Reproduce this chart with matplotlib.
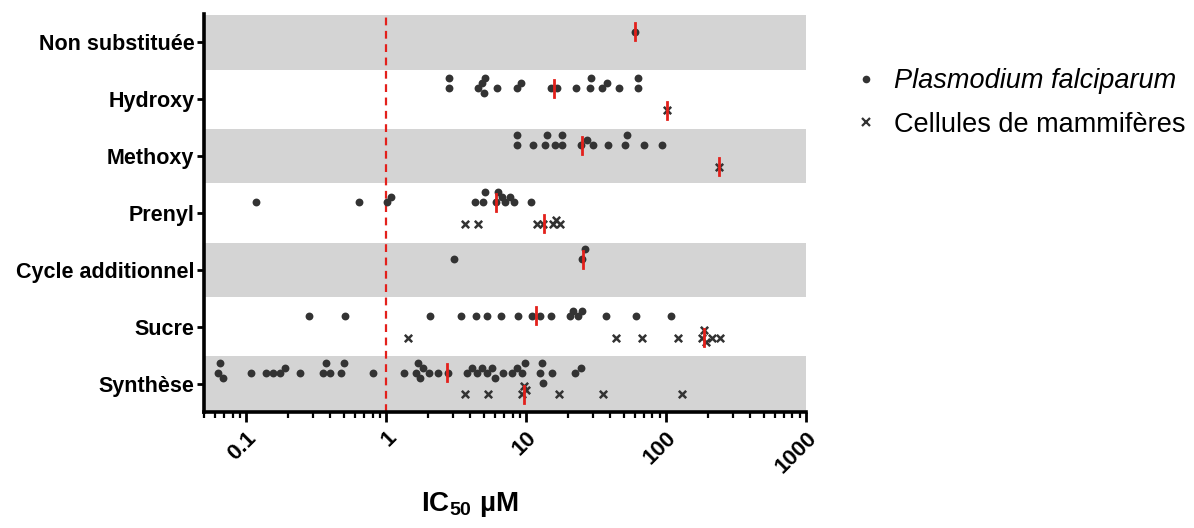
import matplotlib.pyplot as plt
import numpy as np
from matplotlib.lines import Line2D
from matplotlib.ticker import LogLocator, NullFormatter

plt.rcParams['font.family'] = ['Liberation Sans', 'DejaVu Sans']
plt.rcParams['mathtext.fontset'] = 'custom'
plt.rcParams['mathtext.rm'] = 'Liberation Sans'
plt.rcParams['mathtext.bf'] = 'Liberation Sans:bold'

categories = ["Non substituée", "Hydroxy", "Methoxy", "Prenyl",
              "Cycle additionnel", "Sucre", "Synthèse"]
xticks = [0.1, 1, 10, 100, 1000]
xtick_labels = ["0.1", "1", "10", "100", "1000"]

# IC50 (µM) on Plasmodium falciparum
pf_non = [60]
pf_hydroxy = [2.83, 2.83, 4.56, 4.82, 5.0, 5.1, 6.23, 8.6, 9.2, 15.1, 16.7,
              22.7, 28.6, 28.9, 34.7, 37.7, 46.4, 62.6, 63.0]
pf_methoxy = [8.66, 8.66, 11.3, 13.6, 14.1, 16.2, 18.2, 18.2, 24.6, 27.1,
              30.3, 38.7, 51.2, 52.9, 69.4, 94.0]
pf_prenyl = [0.118, 0.645, 1.01, 1.09, 4.32, 4.96, 5.1, 6.1, 6.33, 6.7,
             7.08, 7.68, 8.2, 10.8]
pf_cycle = [3.08, 25.3, 26.5]
pf_sucre = [0.283, 0.512, 2.06, 3.42, 4.39, 5.3, 6.6, 8.8, 11.1, 12.6, 15.1,
            20.6, 21.8, 23.6, 25.0, 37.2, 61.1, 109]
pf_synthese = [0.063, 0.065, 0.068, 0.109, 0.138, 0.155, 0.175, 0.188,
               0.244, 0.356, 0.373, 0.398, 0.48, 0.50, 0.80, 1.35, 1.64,
               1.69, 1.75, 1.83, 2.04, 2.33, 2.78, 3.77, 4.09, 4.44, 4.83,
               5.24, 5.69, 6.0, 6.82, 7.9, 8.6, 9.3, 9.8, 12.6, 12.9, 13.3,
               15.3, 22.3, 24.6]

# IC50 (µM) on mammalian cells
mam_non = []
mam_hydroxy = [102]
mam_methoxy = [240]
mam_prenyl = [3.66, 4.5, 12.0, 13.2, 15.5, 16.4, 17.5]
mam_cycle = []
mam_sucre = [1.44, 44.0, 67.8, 121, 180, 186, 192, 214, 243]
mam_synthese = [3.66, 5.37, 9.3, 9.6, 10.0, 17.2, 35.5, 131]

pf_median = [60, 15.9, 25.0, 6.1, 25.4, 11.8, 2.71]
mam_median = [None, 102, 240, 13.5, None, 186, 9.6]

pf_values = [pf_non, pf_hydroxy, pf_methoxy, pf_prenyl, pf_cycle,
             pf_sucre, pf_synthese]
mam_values = [mam_non, mam_hydroxy, mam_methoxy, mam_prenyl, mam_cycle,
              mam_sucre, mam_synthese]

dark = '#333333'
red = '#e3201b'
W, H = 1194, 528


def swarm_y(ax, xs, y0, step=5.0, diam=6.0):
    # simple beeswarm in pixel space, returns y in data units
    xs = np.asarray(xs, float)
    pts = ax.transData.transform(np.column_stack([xs, np.full(len(xs), y0)]))
    ys = pts[:, 1].copy()
    placed = []
    for i in np.argsort(xs):
        px = pts[i, 0]
        for k in [0, 1, -1, 2, -2, 3, -3]:
            py = pts[i, 1] + k * step
            if all((px - qx) ** 2 + (py - qy) ** 2 >= diam ** 2 for qx, qy in placed):
                break
        placed.append((px, py))
        ys[i] = py
    back = ax.transData.inverted().transform(np.column_stack([pts[:, 0], ys]))
    return back[:, 1]


fig = plt.figure(figsize=(W / 100, H / 100), dpi=100)
ax = fig.add_axes([204 / W, 1 - 412 / H, (806 - 204) / W, (412 - 14) / H])
ax.set_xscale('log')
ax.set_xlim(0.05, 1000)
ax.set_ylim(6.5, -0.5)

for i in range(0, len(categories), 2):
    ax.axhspan(i - 0.48, i + 0.48, color='#d4d4d4', lw=0, zorder=0)

ax.axvline(1, color=red, lw=1.6, ls=(0, (3.5, 2.5)), zorder=1)

off = 0.19
for i in range(len(categories)):
    if pf_values[i]:
        yy = swarm_y(ax, pf_values[i], i - off)
        ax.scatter(pf_values[i], yy, s=32, color=dark, lw=0, zorder=3)
    if mam_values[i]:
        yy = swarm_y(ax, mam_values[i], i + off, step=4.0, diam=4.5)
        ax.scatter(mam_values[i], yy, s=28, marker='x', color=dark,
                   linewidths=1.8, zorder=3)
    if pf_median[i] is not None:
        ax.plot([pf_median[i]] * 2, [i - off - 0.15, i - off + 0.15],
                color=red, lw=2.0, zorder=4)
    if mam_median[i] is not None:
        ax.plot([mam_median[i]] * 2, [i + off - 0.15, i + off + 0.15],
                color=red, lw=2.0, zorder=4)

ax.set_yticks(range(len(categories)))
ax.set_yticklabels(categories, fontsize=15.5, fontweight='bold')
ax.set_xticks(xticks)
ax.set_xticklabels(xtick_labels, fontsize=16, fontweight='bold',
                   rotation=45, ha='right', va='top', rotation_mode='anchor')
ax.xaxis.set_minor_locator(LogLocator(base=10, subs=np.arange(2, 10), numticks=20))
ax.xaxis.set_minor_formatter(NullFormatter())

for s in ['top', 'right']:
    ax.spines[s].set_visible(False)
for s in ['left', 'bottom']:
    ax.spines[s].set_linewidth(2.6)
ax.tick_params(axis='y', length=5, width=2, pad=2)
ax.tick_params(axis='x', which='major', length=7, width=2, pad=4)
ax.tick_params(axis='x', which='minor', length=4, width=1.6)

ax.set_xlabel(r"IC$_{\mathbf{50}}$ µM", fontsize=20, fontweight='bold')
ax.xaxis.set_label_coords((470 - 204) / 602, -(490 - 412) / 398)

handles = [Line2D([], [], ls='', marker='o', ms=5.5, color=dark, mew=0),
           Line2D([], [], ls='', marker='x', ms=5.5, color=dark, mew=1.6)]
leg = ax.legend(handles, ["Plasmodium falciparum", "Cellules de mammifères"],
                loc='upper left', bbox_to_anchor=(852 / W, 1 - 68 / H),
                bbox_transform=fig.transFigure, frameon=False, fontsize=19.5,
                handlelength=1.0, handletextpad=0.55, labelspacing=0.65,
                borderaxespad=0, borderpad=0)
leg.get_texts()[0].set_style('italic')

fig.savefig('out.png', dpi=100)
